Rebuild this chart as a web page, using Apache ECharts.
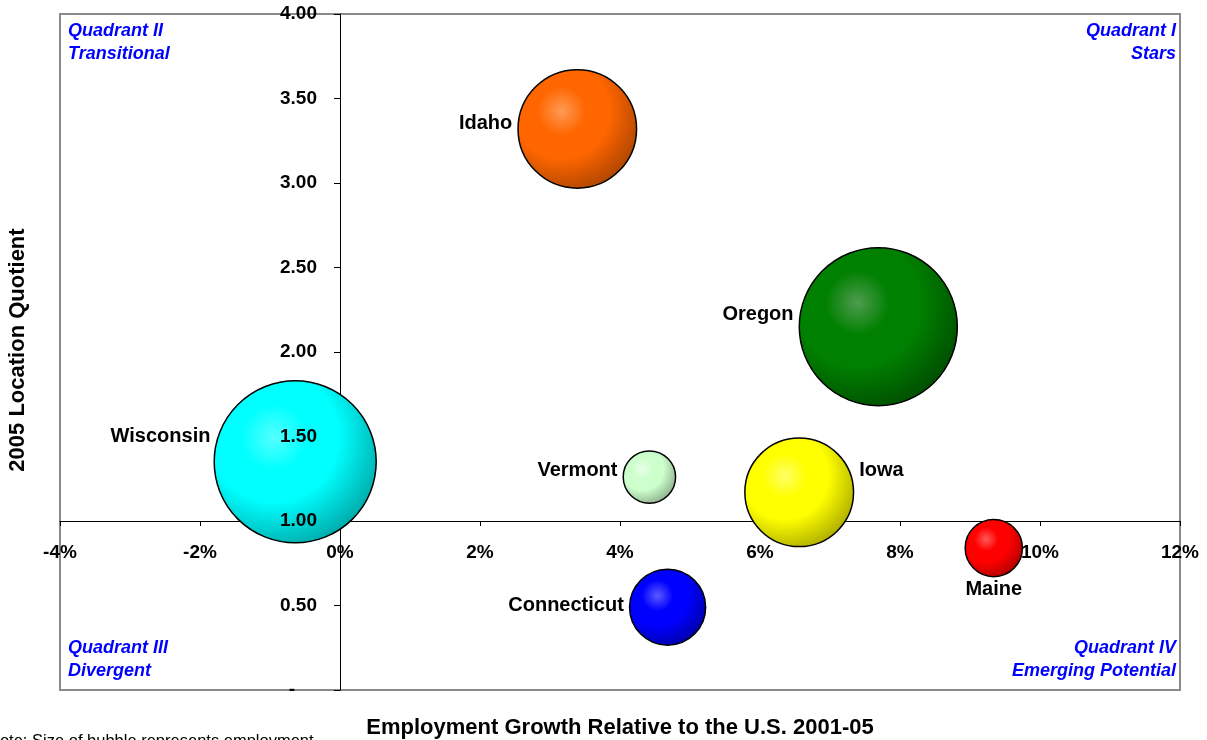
<!DOCTYPE html>
<html>
<head>
<meta charset="utf-8">
<title>Location Quotient vs Employment Growth</title>
<script src="https://cdn.jsdelivr.net/npm/echarts@6/dist/echarts.min.js"></script>
<style>
  html, body { margin: 0; padding: 0; background: #ffffff; }
  #chart { width: 1207px; height: 740px; }
</style>
</head>
<body>
<div id="chart"></div>
<script>
// ---- data ----
const states = ['Idaho', 'Oregon', 'Wisconsin', 'Vermont', 'Iowa', 'Maine', 'Connecticut'];
const growth = [3.39, 7.69, -0.64, 4.42, 6.56, 9.34, 4.68];           // % relative to U.S., 2001-05
const locationQuotient = [3.32, 2.15, 1.35, 1.26, 1.17, 0.84, 0.49];  // 2005 LQ
const employment = [14400, 25600, 26900, 2810, 12100, 3360, 5930];     // bubble size

const xTickRange = [-4, 12];   // percent
const xTickStep = 2;
const yTickRange = [0, 4];
const yTickStep = 0.5;
const lqCrossing = 1;          // horizontal axis sits at LQ = 1.00

const quadrantTexts = {
  q1: ['Quadrant I', 'Stars'],
  q2: ['Quadrant II', 'Transitional'],
  q3: ['Quadrant III', 'Divergent'],
  q4: ['Quadrant IV', 'Emerging Potential']
};
const xTitle = 'Employment Growth Relative to the U.S. 2001-05';
const yTitle = '2005 Location Quotient';
const noteText = 'Note: Size of bubble represents employment';

// ---- layout & style ----
const FONT = '"Liberation Sans", Arial, Helvetica, sans-serif';
const GRID = { left: 60, top: 14, width: 1120, height: 676 };
const MAX_DIAMETER = 162;

// the vertical axis sits at 0%, the horizontal one at the LQ crossing value
const yAxisShift = -GRID.width * (0 - xTickRange[0]) / (xTickRange[1] - xTickRange[0]);
const xAxisShift = -GRID.height * (lqCrossing - yTickRange[0]) / (yTickRange[1] - yTickRange[0]);

const bubbleColors = {
  Idaho:       ['#ff9a55', '#ff6600', '#a94300'],
  Oregon:      ['#4f9c4f', '#008000', '#004a00'],
  Wisconsin:   ['#55ffff', '#00ffff', '#00a4a4'],
  Vermont:     ['#eaffea', '#ccffcc', '#88a888'],
  Iowa:        ['#ffff66', '#ffff00', '#a8a800'],
  Maine:       ['#ff5a5a', '#ff0000', '#a80000'],
  Connecticut: ['#5a5aff', '#0000ff', '#0000a0']
};

const labelPlacement = {
  Idaho:       { position: 'left',   offset: [0, -5] },
  Oregon:      { position: 'left',   offset: [0, -12] },
  Wisconsin:   { position: 'left',   offset: [0, -25], distance: 3 },
  Vermont:     { position: 'left',   offset: [0, -7] },
  Iowa:        { position: 'right',  offset: [0, -22] },
  Maine:       { position: 'bottom', offset: [0, -3] },
  Connecticut: { position: 'left',   offset: [0, -2] }
};

function sphere(c) {
  return {
    type: 'radial', x: 0.37, y: 0.35, r: 0.72,
    colorStops: [
      { offset: 0, color: c[0] },
      { offset: 0.28, color: c[1] },
      { offset: 0.55, color: c[1] },
      { offset: 1, color: c[2] }
    ]
  };
}

const maxEmployment = Math.max.apply(null, employment);

const bubbleData = states.map((s, i) => ({
  name: s,
  value: [growth[i], locationQuotient[i], employment[i]],
  itemStyle: { color: sphere(bubbleColors[s]) },
  label: labelPlacement[s]
}));

const tickFont = { color: '#000', fontFamily: FONT, fontWeight: 'bold', fontSize: 19 };

function valueAxisBase(range, step) {
  return { type: 'value', min: range[0], max: range[1], interval: step, splitLine: { show: false } };
}

// quadrant captions, one text element per line
const QUAD_FONT = 'italic bold 18px ' + FONT;
const LINE_GAP = 23;
function quadrantCaption(lines, side, firstTop) {
  return lines.map((t, k) => {
    const el = {
      type: 'text', top: firstTop + k * LINE_GAP, z: 10,
      style: { text: t, fill: '#0000ff', font: QUAD_FONT }
    };
    if (side === 'left') el.left = 68; else el.right = 31;
    return el;
  });
}

const chart = echarts.init(document.getElementById('chart'), null, { renderer: 'canvas' });

chart.setOption({
  animation: false,
  backgroundColor: '#ffffff',
  grid: {
    left: GRID.left, top: GRID.top, width: GRID.width, height: GRID.height,
    show: true, borderColor: '#8a8a8a', borderWidth: 2, backgroundColor: 'transparent',
    containLabel: false, outerBoundsMode: 'none'
  },
  xAxis: [
    Object.assign(valueAxisBase(xTickRange, xTickStep), {
      position: 'bottom', offset: xAxisShift, z: 0,
      axisLine: { show: true, onZero: false, lineStyle: { color: '#000', width: 1 } },
      axisTick: { show: true, length: 5, lineStyle: { color: '#000', width: 1 } },
      axisLabel: { show: false }
    }),
    Object.assign(valueAxisBase(xTickRange, xTickStep), {
      position: 'bottom', offset: xAxisShift, z: 6,
      axisLine: { show: false, onZero: false },
      axisTick: { show: false },
      axisLabel: Object.assign({ show: true, margin: 22, formatter: v => v + '%' }, tickFont)
    })
  ],
  yAxis: [
    Object.assign(valueAxisBase(yTickRange, yTickStep), {
      position: 'left', offset: yAxisShift, z: 0,
      axisLine: { show: true, onZero: false, lineStyle: { color: '#000', width: 1 } },
      axisTick: { show: true, length: 6, lineStyle: { color: '#000', width: 1 } },
      axisLabel: { show: false }
    }),
    Object.assign(valueAxisBase(yTickRange, yTickStep), {
      position: 'left', offset: yAxisShift, z: 6,
      axisLine: { show: false, onZero: false },
      axisTick: { show: false },
      axisLabel: Object.assign({
        show: true, margin: 23,
        formatter: v => (v === 0 ? '{z|-}' : v.toFixed(2)),
        rich: { z: { fontFamily: FONT, fontWeight: 'bold', fontSize: 19, color: '#000', padding: [0, 22, 0, 0] } }
      }, tickFont)
    })
  ],
  series: [{
    type: 'scatter',
    xAxisIndex: 0,
    yAxisIndex: 0,
    z: 3,
    symbol: 'circle',
    symbolSize: d => Math.sqrt(d[2] / maxEmployment) * MAX_DIAMETER,
    itemStyle: { borderColor: '#000', borderWidth: 1.5, opacity: 1 },
    label: {
      show: true, formatter: '{b}', distance: 5,
      color: '#000', fontFamily: FONT, fontWeight: 'bold', fontSize: 20
    },
    emphasis: { disabled: true },
    data: bubbleData
  }],
  graphic: [].concat(
    quadrantCaption(quadrantTexts.q2, 'left', 22),
    quadrantCaption(quadrantTexts.q1, 'right', 22),
    quadrantCaption(quadrantTexts.q3, 'left', 639),
    quadrantCaption(quadrantTexts.q4, 'right', 639),
    [
      {
        type: 'text', x: 620, y: 728, z: 10,
        style: { text: xTitle, fill: '#000', font: 'bold 22px ' + FONT, align: 'center', verticalAlign: 'middle' }
      },
      {
        type: 'text', x: 18, y: 350, rotation: Math.PI / 2, z: 10,
        style: { text: yTitle, fill: '#000', font: 'bold 22px ' + FONT, align: 'center', verticalAlign: 'middle' }
      },
      {
        type: 'text', x: -12, y: 733, z: 10,
        style: { text: noteText, fill: '#000', font: '16.5px ' + FONT, align: 'left', verticalAlign: 'top' }
      }
    ]
  )
});
</script>
</body>
</html>
